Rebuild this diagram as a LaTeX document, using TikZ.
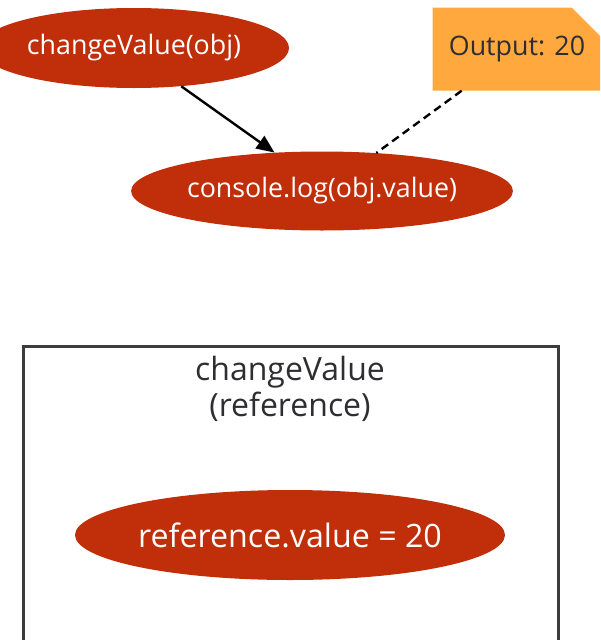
\documentclass[tikz,border=0pt]{standalone}
\usepackage{fontspec}
\setmainfont{Open Sans}
\usetikzlibrary{arrows.meta,shapes.geometric,shapes.misc}

\definecolor{callred}{RGB}{192,46,10}
\definecolor{noteorange}{RGB}{255,168,62}
\definecolor{inkgray}{RGB}{45,45,50}
\definecolor{framegray}{RGB}{60,60,60}

\tikzset{
  callnode/.style={ellipse, fill=callred, draw=none, text=white, inner sep=0pt,
    font=\fontsize{26.8}{31}\selectfont},
  innercall/.style={callnode, font=\fontsize{32.2}{37}\selectfont},
  notebox/.style={chamfered rectangle, chamfered rectangle corners=north east,
    chamfered rectangle xsep=14pt, chamfered rectangle ysep=17pt,
    fill=noteorange, draw=none, text=inkgray, inner sep=0pt,
    font=\fontsize{26.8}{31}\selectfont},
  flow/.style={draw=black, line width=2.4pt, -{Triangle[length=18pt,width=15pt]}},
  noteline/.style={draw=black, line width=2.4pt, dash pattern=on 8pt off 5pt},
  clusterbox/.style={draw=framegray, line width=3pt, fill=none},
  clustertitle/.style={text=inkgray, align=center, inner sep=0pt,
    font=\fontsize{32}{36}\selectfont}
}

\begin{document}
\begin{tikzpicture}[x=1pt, y=-1pt]
  \useasboundingbox (0,0) rectangle (600,640);
  \clip (0,0) rectangle (600,640);

  % call graph at the top
  \node[callnode, minimum width=310pt, minimum height=80pt] (call) at (134,48) {changeValue(obj)};
  \node[callnode, minimum width=376pt, minimum height=79pt] (log) at (322,191) {console.log(obj.value)};
  \node[notebox, minimum width=169pt, minimum height=83pt] (out) at (517,49) {Output: 20};

  \draw[flow] (call.-39) -- (log.141);
  \draw[noteline] (out.-143) -- (log.35.6);

  % function body cluster
  \node[clusterbox, minimum width=535pt, minimum height=320pt, anchor=north west] (frame) at (22,345) {};
  \node[clustertitle] (title) at (290,389) {changeValue\\(reference)};
  \node[innercall, minimum width=430pt, minimum height=90pt] (assign) at (290,535) {reference.value = 20};
\end{tikzpicture}
\end{document}
